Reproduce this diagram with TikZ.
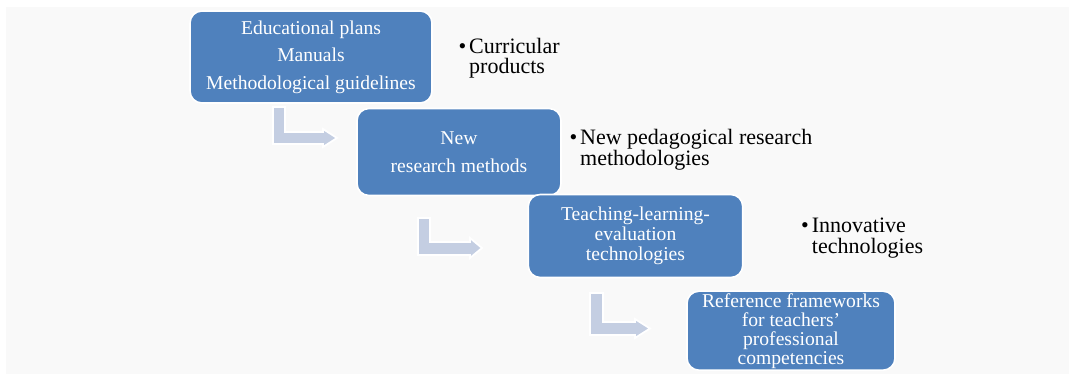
\documentclass[tikz,border=0pt]{standalone}
\usepackage{fontspec}
\setmainfont{Liberation Serif}
\definecolor{boxblue}{HTML}{4F81BD}
\definecolor{arrowfill}{RGB}{196,206,226}
\definecolor{bggray}{HTML}{F9F9F9}
\tikzset{
  stagebox/.style={rectangle, rounded corners=12pt, fill=boxblue, draw=white,
    line width=1.6pt, text=white, align=center, inner sep=0pt},
  bentarrow/.style={fill=arrowfill, draw=white, line width=1.8pt, line join=miter},
  bullettext/.style={anchor=base west, align=left, inner sep=0pt, text=black,
    font=\fontsize{22}{20.5}\selectfont}
}
\newcommand{\bul}{\makebox[0pt][r]{•\hspace{3pt}}}
\begin{document}
\begin{tikzpicture}[x=1pt,y=-1pt]
\useasboundingbox (0,0) rectangle (1069,374);
\fill[white] (0,0) rectangle (1069,374);
\fill[bggray] (6,7) rectangle (1069,374);

% bent arrows
\draw[bentarrow] (273,107) -- (285,107) -- (285,132) -- (323,132) -- (323,129)
  -- (337,138) -- (323,147) -- (323,144) -- (273,144) -- cycle;
\draw[bentarrow] (418,218) -- (430,218) -- (430,242) -- (470,242) -- (470,238)
  -- (482,248) -- (470,258) -- (470,255) -- (418,255) -- cycle;
\draw[bentarrow] (590,293) -- (603,293) -- (603,322) -- (635,322) -- (635,319)
  -- (650,328.5) -- (635,338) -- (635,335) -- (590,335) -- cycle;

% boxes
\node[stagebox, minimum width=242pt, minimum height=92pt,
  font=\fontsize{19.6}{27.5}\selectfont] (b1) at (311,57)
  {Educational plans\\Manuals\\Methodological guidelines};
\node[stagebox, minimum width=204pt, minimum height=87pt,
  font=\fontsize{19.6}{28}\selectfont] (b2) at (459,152)
  {New\\research methods};
\node[stagebox, minimum width=214.5pt, minimum height=83pt,
  font=\fontsize{19.6}{20.3}\selectfont] (b3) at (635.5,236)
  {Teaching-learning-\\evaluation\\technologies};
\node[stagebox, minimum width=208pt, minimum height=79pt,
  font=\fontsize{19.6}{19}\selectfont] (b4) at (791,330.7)
  {Reference frameworks\\for teachers’\\professional\\competencies};

% bullet labels (base anchor = baseline of the last line)
\node[bullettext] (t1) at (469,74) {\bul Curricular\\products};
\node[bullettext] (t2) at (580,165.5) {\bul New pedagogical research\\methodologies};
\node[bullettext] (t3) at (811.7,253.5) {\bul Innovative\\technologies};
\end{tikzpicture}
\end{document}
